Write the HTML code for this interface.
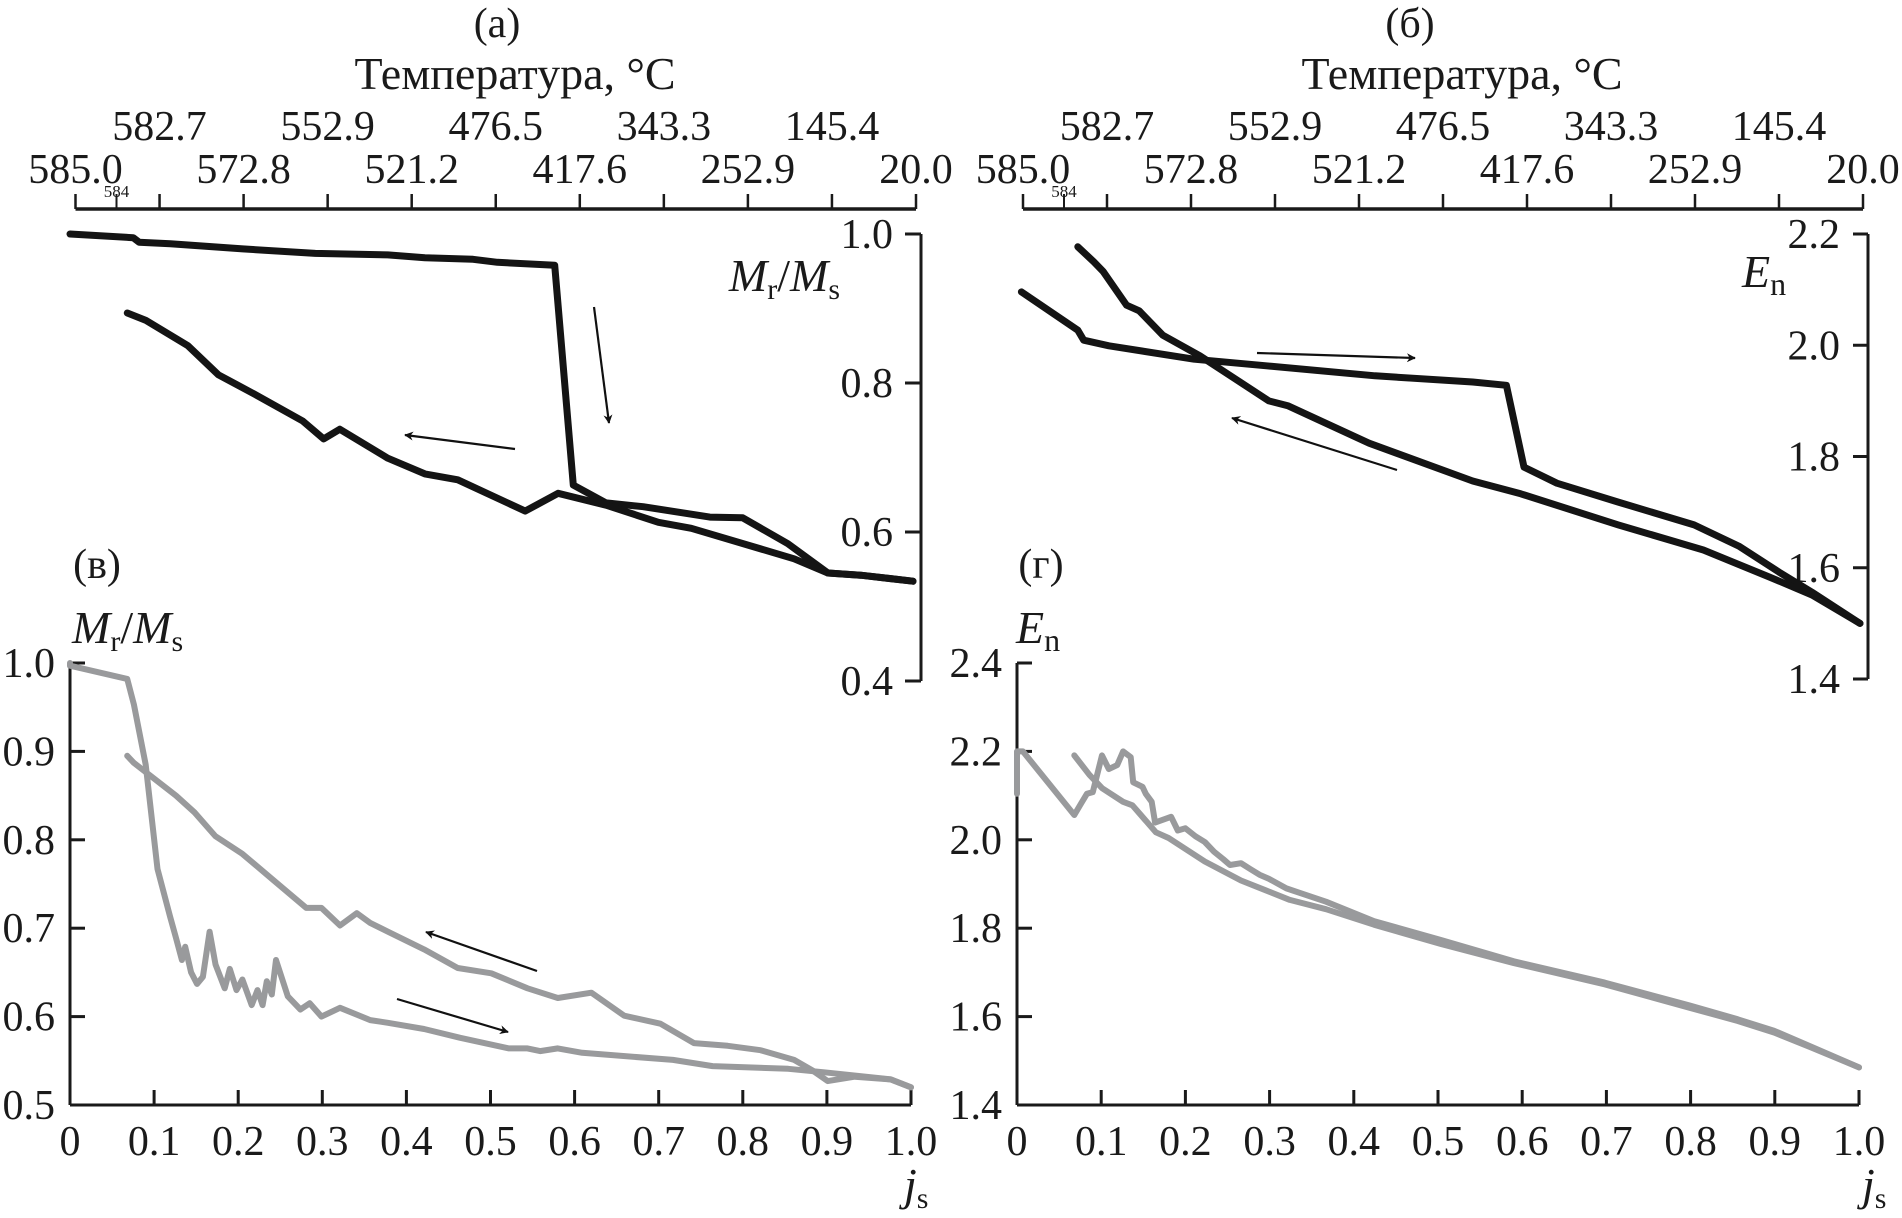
<!DOCTYPE html>
<html><head><meta charset="utf-8">
<style>
html,body{margin:0;padding:0;background:#fff;}
svg{display:block;}
text{font-family:"Liberation Serif","Times New Roman",serif;}
</style></head>
<body>
<svg id="fig" width="1902" height="1218" viewBox="0 0 1902 1218" xmlns="http://www.w3.org/2000/svg" font-family="Liberation Serif, serif">
<defs>
<marker id="ah" viewBox="0 0 10 10" refX="9" refY="5" markerWidth="9" markerHeight="9" markerUnits="userSpaceOnUse" orient="auto"><path d="M0,0 L10,5 L0,10 L3,5 z" fill="#111"/></marker>
</defs>
<g id="root"></g>
</svg>
<script>
// ---------- data ----------
const tempLabelsBottom = ["585.0","572.8","521.2","417.6","252.9","20.0"];
const tempLabelsTop = ["582.7","552.9","476.5","343.3","145.4"];
const aTicks = [1.0,0.8,0.6,0.4];
const bTicks = [2.2,2.0,1.8,1.6,1.4];
const vTicks = [1.0,0.9,0.8,0.7,0.6,0.5];
const gTicks = [2.4,2.2,2.0,1.8,1.6,1.4];
const xTicks = [0,0.1,0.2,0.3,0.4,0.5,0.6,0.7,0.8,0.9,1.0];
const xTickLabels = ["0","0.1","0.2","0.3","0.4","0.5","0.6","0.7","0.8","0.9","1.0"];

const aHeatJs = [0,.075,.082,.119,.205,.291,.377,.421,.478,.507,.575,.597,.636,.680,.759,.798,.852,.899,.938,1.0];
const aHeatV  = [1.0,.995,.989,.987,.980,.974,.972,.968,.966,.962,.958,.663,.639,.634,.620,.619,.584,.545,.542,.534];
const aCoolJs = [.068,.090,.140,.176,.219,.276,.301,.320,.377,.421,.460,.540,.579,.636,.698,.737,.859,.899,.938,1.0];
const aCoolV  = [.894,.884,.850,.811,.785,.749,.725,.738,.699,.678,.670,.628,.652,.636,.613,.605,.564,.545,.542,.534];

const bHeatJs = [.004,.071,.078,.108,.209,.295,.424,.540,.580,.601,.640,.713,.803,.856,.904,.943,1.0];
const bHeatV  = [2.096,2.027,2.009,1.999,1.975,1.963,1.945,1.934,1.928,1.781,1.752,1.718,1.677,1.639,1.592,1.556,1.50];
const bCoolJs = [.071,.090,.101,.129,.144,.172,.216,.298,.321,.417,.540,.597,.713,.814,.893,.943,1.0];
const bCoolV  = [2.177,2.150,2.133,2.072,2.062,2.018,1.981,1.900,1.891,1.824,1.756,1.733,1.677,1.632,1.583,1.551,1.50];

const vHeatJs = [0,0,.068,.076,.090,.104,.119,.126,.133,.137,.144,.151,.158,.166,.173,.184,.190,.198,.205,.216,.223,.229,.234,.240,.245,.259,.274,.285,.299,.321,.357,.378,.421,.464,.522,.544,.559,.580,.609,.717,.764,.854,.897,.976,1.0];
const vHeatV  = [1.0,.997,.982,.953,.885,.767,.713,.689,.664,.679,.650,.637,.645,.696,.659,.632,.654,.630,.642,.613,.630,.613,.640,.625,.664,.623,.608,.615,.600,.610,.596,.593,.586,.576,.564,.564,.561,.564,.559,.551,.544,.541,.537,.529,.520];
const vCoolJs = [.068,.076,.126,.148,.173,.205,.241,.281,.299,.321,.341,.357,.378,.421,.461,.501,.544,.580,.620,.659,.702,.742,.782,.821,.861,.883,.901,.933,.976,1.0];
const vCoolV  = [.895,.887,.850,.831,.804,.784,.755,.723,.723,.703,.717,.706,.696,.676,.655,.649,.632,.621,.627,.601,.592,.570,.567,.562,.551,.539,.527,.532,.529,.520];

const gHeatJs = [0,0,.007,.068,.076,.083,.090,.101,.109,.119,.126,.135,.138,.149,.153,.160,.164,.183,.191,.200,.212,.223,.234,.245,.253,.266,.277,.288,.299,.320,.367,.424,.504,.590,.698,.799,.856,.899,.942,1.0];
const gHeatV  = [2.104,2.2,2.2,2.056,2.082,2.104,2.108,2.191,2.16,2.169,2.2,2.187,2.13,2.12,2.104,2.086,2.039,2.052,2.021,2.026,2.008,1.995,1.973,1.956,1.943,1.947,1.934,1.921,1.912,1.890,1.86,1.816,1.773,1.725,1.677,1.625,1.594,1.568,1.533,1.485];
const gCoolJs = [.068,.086,.101,.126,.137,.165,.180,.223,.266,.295,.324,.367,.424,.504,.590,.698,.799,.856,.899,.942,1.0];
const gCoolV  = [2.191,2.147,2.117,2.086,2.078,2.017,2.004,1.951,1.908,1.886,1.864,1.843,1.808,1.764,1.721,1.673,1.620,1.590,1.564,1.531,1.485];

// ---------- helpers ----------
const NS="http://www.w3.org/2000/svg";
const FONT="Liberation Serif, Times New Roman, serif";
const root=document.getElementById('root');
function mk(tag,attrs,parent){const e=document.createElementNS(NS,tag);for(const k in attrs)e.setAttribute(k,attrs[k]);(parent||root).appendChild(e);return e;}
function txt(x,y,s,size,anchor,parent,name){const t=mk('text',{x:x,y:y,'font-size':size,'font-family':FONT,'text-anchor':anchor||'middle',fill:'#1a1a1a'},parent);t.textContent=s;


return t;}
function line(x1,y1,x2,y2,w,parent){const l=mk('line',{x1:x1,y1:y1,x2:x2,y2:y2,stroke:'#1a1a1a','stroke-width':w||3},parent);


return l;}

function tempAxis(x0,x1,y,g){
  line(x0,y,x1,y,3.5,g);
  const step=(x1-x0)/10;
  for(let i=0;i<=10;i++){const t=line(x0+i*step,y,x0+i*step,y-15,2.5,g);}
  line(x0+41,y,x0+41,y-15,2,g);
  tempLabelsBottom.forEach((s,i)=>{txt(x0+i*2*step,183,s,42,'middle',g,'temp-tick-label');});
  tempLabelsTop.forEach((s,i)=>{txt(x0+(i*2+1)*step,140,s,42,'middle',g,'temp-tick-label');});
  txt(x0+41,197,'584',17,'middle',g,'temp-minor-label');
}
function poly(xs,ys,fx,fy,color,w,g,name){
  const pts=xs.map((v,i)=>fx(v).toFixed(1)+','+fy(ys[i]).toFixed(1)).join(' ');
  const p=mk('polyline',{points:pts,fill:'none',stroke:color,'stroke-width':w,'stroke-linejoin':'round','stroke-linecap':'round'},g);
  
  
}
function arrow(x1,y1,x2,y2,g){const l=mk('line',{x1:x1,y1:y1,x2:x2,y2:y2,stroke:'#111','stroke-width':2.2,'marker-end':'url(#ah)'},g);

}
function ylab(x,y,main,g,anchor){
  const t=mk('text',{x:x,y:y,'font-size':46,'font-family':FONT,'text-anchor':anchor||'start',fill:'#1a1a1a'},g);
  
  
  let s='<tspan font-style="italic">M</tspan><tspan font-size="30" dy="8">r</tspan><tspan dy="-8">/</tspan><tspan font-style="italic">M</tspan><tspan font-size="30" dy="8">s</tspan>';
  if(main==='E') s='<tspan font-style="italic">E</tspan><tspan font-size="32" dy="8">n</tspan>';
  t.innerHTML=s;
}

// ---------- panel (a) ----------
{
 const g=mk('g',{});  
 txt(497,37,'(а)',42,'middle',g,'panel-a-label');
 txt(515,89,'Температура, °C',46,'middle',g,'top-axis-title');
 tempAxis(75.5,916,209,g);
 const fy=v=>234+(1.0-v)/0.6*447, fx=j=>70+j*843;
 line(921,234,921,681,3,g);
 aTicks.forEach(v=>{line(905,fy(v),921,fy(v),3,g);txt(893,fy(v)+14,v.toFixed(1),42,'end',g,'y-tick-label');});
 ylab(840,291,'M',g,'end');
 poly(aHeatJs,aHeatV,fx,fy,'#141414',7,g,'heating-curve');
 poly(aCoolJs,aCoolV,fx,fy,'#141414',7,g,'cooling-curve');
 arrow(594,307,609,423,g);
 arrow(515,449,405,435,g);
}
// ---------- panel (б) ----------
{
 const g=mk('g',{});  
 txt(1410,37,'(б)',42,'middle',g,'panel-b-label');
 txt(1462,89,'Температура, °C',46,'middle',g,'top-axis-title');
 tempAxis(1023,1863,209,g);
 const fy=v=>234+(2.2-v)/0.8*445, fx=j=>1018+j*842;
 line(1868,234,1868,679,3,g);
 bTicks.forEach(v=>{line(1853,fy(v),1868,fy(v),3,g);txt(1840,fy(v)+14,v.toFixed(1),42,'end',g,'y-tick-label');});
 ylab(1742,287,'E',g,'start');
 poly(bHeatJs,bHeatV,fx,fy,'#141414',7,g,'heating-curve');
 poly(bCoolJs,bCoolV,fx,fy,'#141414',7,g,'cooling-curve');
 arrow(1257,353,1415,358,g);
 arrow(1397,470,1232,418,g);
}
// ---------- panel (в) ----------
{
 const g=mk('g',{});  
 txt(97,578,'(в)',42,'middle',g,'panel-v-label');
 ylab(72,643,'M',g,'start');
 const fy=v=>663+(1.0-v)/0.5*442, fx=j=>70+j*841;
 line(70,663,70,1105,3,g); line(70,1105,911,1105,3,g);
 vTicks.forEach(v=>{line(70,fy(v),85,fy(v),3,g);txt(55,fy(v)+14,v.toFixed(1),42,'end',g,'y-tick-label');});
 xTicks.forEach((v,i)=>{line(fx(v),1105,fx(v),1090,3,g);txt(fx(v),1155,xTickLabels[i],42,'middle',g,'x-tick-label');});
 const t=mk('text',{x:904,y:1200,'font-size':46,'font-family':FONT,fill:'#1a1a1a'},g); t.innerHTML='<tspan font-style="italic">j</tspan><tspan font-size="30" dy="8">s</tspan>';
  
 poly(vHeatJs,vHeatV,fx,fy,'#999a9c',6,g,'heating-curve');
 poly(vCoolJs,vCoolV,fx,fy,'#999a9c',6,g,'cooling-curve');
 arrow(537,971,426,932,g);
 arrow(397,999,508,1032,g);
}
// ---------- panel (г) ----------
{
 const g=mk('g',{});  
 txt(1041,578,'(г)',42,'middle',g,'panel-g-label');
 ylab(1016,643,'E',g,'start');
 const fy=v=>663+(2.4-v)/1.0*442, fx=j=>1017+j*842;
 line(1017,663,1017,1105,3,g); line(1017,1105,1859,1105,3,g);
 gTicks.forEach(v=>{line(1017,fy(v),1032,fy(v),3,g);txt(1002,fy(v)+14,v.toFixed(1),42,'end',g,'y-tick-label');});
 xTicks.forEach((v,i)=>{line(fx(v),1105,fx(v),1090,3,g);txt(fx(v),1155,xTickLabels[i],42,'middle',g,'x-tick-label');});
 const t=mk('text',{x:1862,y:1200,'font-size':46,'font-family':FONT,fill:'#1a1a1a'},g); t.innerHTML='<tspan font-style="italic">j</tspan><tspan font-size="30" dy="8">s</tspan>';
  
 poly(gHeatJs,gHeatV,fx,fy,'#999a9c',6,g,'heating-curve');
 poly(gCoolJs,gCoolV,fx,fy,'#999a9c',6,g,'cooling-curve');
}
</script>
</body></html>
